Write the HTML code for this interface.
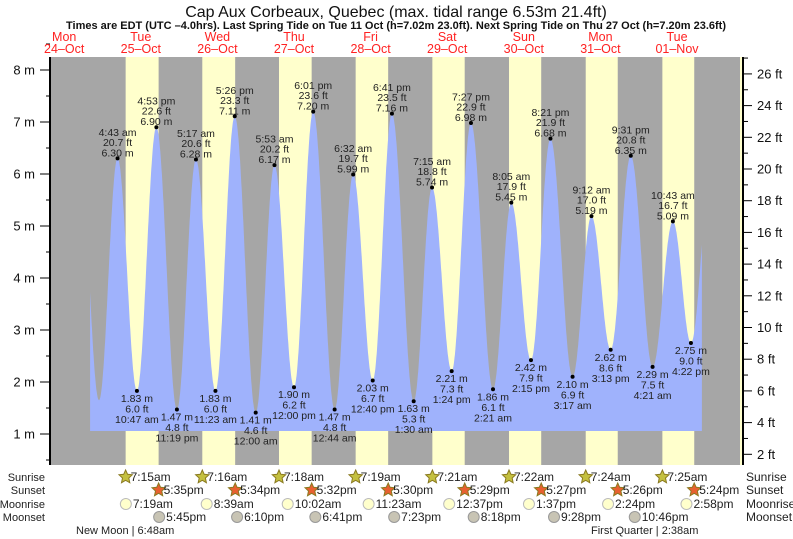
<!DOCTYPE html>
<html><head><meta charset="utf-8"><style>
body{margin:0;background:#fff;}
svg{display:block;font-family:"Liberation Sans",sans-serif;}
</style></head><body>
<svg id="chart" width="793" height="539" viewBox="0 0 793 539" xmlns="http://www.w3.org/2000/svg">
<text x="396" y="17" text-anchor="middle" font-size="16" fill="#111">Cap Aux Corbeaux, Quebec (max. tidal range 6.53m 21.4ft)</text>
<text x="396" y="29" text-anchor="middle" font-size="11" font-weight="bold" fill="#111">Times are EDT (UTC –4.0hrs). Last Spring Tide on Tue 11 Oct (h=7.02m 23.0ft). Next Spring Tide on Thu 27 Oct (h=7.20m 23.6ft)</text>
<g id="layer"></g>
</svg>
<script>
// ---- data ----
const dayNames = ["Mon","Tue","Wed","Thu","Fri","Sat","Sun","Mon","Tue"];
const dayDates = ["24\u2013Oct","25\u2013Oct","26\u2013Oct","27\u2013Oct","28\u2013Oct","29\u2013Oct","30\u2013Oct","31\u2013Oct","01\u2013Nov"];
const tideDay = [-1,-1,0,0,0,0,1,1,1,2,2,2,2,3,3,3,3,4,4,4,4,5,5,5,5,6,6,6,6,7,7,7,7];
const tideTime = ["4:40 pm","10:54 pm","4:43 am","10:47 am","4:53 pm","11:19 pm","5:17 am","11:23 am","5:26 pm","12:00 am","5:53 am","12:00 pm","6:01 pm","12:44 am","6:32 am","12:40 pm","6:41 pm","1:30 am","7:15 am","1:24 pm","7:27 pm","2:21 am","8:05 am","2:15 pm","8:21 pm","3:17 am","9:12 am","3:13 pm","9:31 pm","4:21 am","10:43 am","4:22 pm","10:50 pm"];
const tideM = [6.60,1.65,6.30,1.83,6.90,1.47,6.28,1.83,7.11,1.41,6.17,1.90,7.20,1.47,5.99,2.03,7.16,1.63,5.74,2.21,6.98,1.86,5.45,2.42,6.68,2.10,5.19,2.62,6.35,2.29,5.09,2.75,6.20];
const tideShown = [0,0,1,1,1,1,1,1,1,1,1,1,1,1,1,1,1,1,1,1,1,1,1,1,1,1,1,1,1,1,1,1,0];
const curveStartH = -3.9, curveEndH = 187.8;
const sunriseT = ["7:15am","7:16am","7:18am","7:19am","7:21am","7:22am","7:24am","7:25am"];
const sunsetT = ["5:35pm","5:34pm","5:32pm","5:30pm","5:29pm","5:27pm","5:26pm","5:24pm"];
const moonriseT = ["7:19am","8:39am","10:02am","11:23am","12:37pm","1:37pm","2:24pm","2:58pm"];
const moonsetT = ["5:45pm","6:10pm","6:41pm","7:23pm","8:18pm","9:28pm","10:46pm",null];
const mTicks = [1,2,3,4,5,6,7,8];
const ftTicks = [2,4,6,8,10,12,14,16,18,20,22,24,26];

const PL=50, PR=740, PT=57, PB=465;
const X0=102.5, PXD=76.6;
function xH(h){return X0 + h/24*PXD;}
function yM(m){return 434 - (m-1)*52;}
function yFt(f){return yM(f*0.3048);}
function parseT(s){const m=s.match(/(\d+):(\d+)\s*(am|pm)/);let h=+m[1]%12;if(m[3]=="pm")h+=12;return h+ +m[2]/60;}
const NS="http://www.w3.org/2000/svg";
const layer=document.getElementById('layer');
function mk(tag,attrs,parent){const e=document.createElementNS(NS,tag);for(const k in attrs)e.setAttribute(k,attrs[k]);(parent||layer).appendChild(e);return e;}
function txt(x,y,s,size,anchor,fill){const e=mk('text',{x:x,y:y,'font-size':size,'text-anchor':anchor||'middle',fill:fill||'#222'});e.textContent=s;return e;}

let e=mk('rect',{x:PL,y:PT,width:PR-PL,height:PB-PT,fill:'#a6a6a6'});


for(let d=0;d<sunriseT.length;d++){
  const a=xH(d*24+parseT(sunriseT[d])), b=xH(d*24+parseT(sunsetT[d]));
  e=mk('rect',{x:a,y:PT,width:b-a,height:PB-PT,fill:'#ffffcc'});
  
  
}
e=mk('rect',{x:PR,y:PT,width:2,height:PB-PT,fill:'#ffffcc'});



const tH=tideTime.map((t,i)=>tideDay[i]*24+parseT(t));
function hAt(h){for(let i=0;i<tH.length-1;i++){if(h>=tH[i]&&h<=tH[i+1]){const f=(h-tH[i])/(tH[i+1]-tH[i]);return tideM[i]+(tideM[i+1]-tideM[i])*(1-Math.cos(Math.PI*f))/2;}}return tideM[0];}
const base=431;
let d=`M${xH(curveStartH).toFixed(1)},${base}`;
for(let h=curveStartH;h<=curveEndH;h+=0.1){d+=` L${xH(h).toFixed(1)},${yM(hAt(h)).toFixed(1)}`;}
d+=` L${xH(curveEndH).toFixed(1)},${yM(hAt(curveEndH)).toFixed(1)} L${xH(curveEndH).toFixed(1)},${base} Z`;
e=mk('path',{d:d,fill:'#9fb2fc'});



for(let i=0;i<tH.length;i++){
  if(!tideShown[i])continue;
  const x=xH(tH[i]), y=yM(tideM[i]);
  const high = (i>0&&tideM[i]>tideM[i-1]) || (i==0);
  e=mk('circle',{cx:x,cy:y,r:2,fill:'#000'});
  
  
  const ms=tideM[i].toFixed(2)+' m', fs=(tideM[i]*3.28084).toFixed(1)+' ft', ts=tideTime[i];
  const g=mk('g',{});
  
  
  const lines = high ? [[ts,-22.5],[fs,-12.5],[ms,-2]] : [[ms,11],[fs,21.5],[ts,32]];
  lines.forEach(l=>{const t=txt(x,y+l[1],l[0],10.5);g.appendChild(t);});
}

e=mk('line',{x1:PL,y1:PT,x2:PL,y2:PB,stroke:'#000','stroke-width':2});


e=mk('line',{x1:PR+3,y1:PT,x2:PR+3,y2:PB,stroke:'#000','stroke-width':2});


mTicks.forEach(m=>{
  mk('line',{x1:40,y1:yM(m),x2:PL,y2:yM(m),stroke:'#000'});
  mk('line',{x1:46,y1:yM(m-0.5),x2:PL,y2:yM(m-0.5),stroke:'#000'});
  e=txt(35,yM(m)+4.5,m+' m',13,'end','#111');
  
  
});
mk('line',{x1:46,y1:yM(8.5),x2:PL,y2:yM(8.5),stroke:'#000'});
ftTicks.forEach(f=>{
  mk('line',{x1:PR+3,y1:yFt(f),x2:PR+12,y2:yFt(f),stroke:'#000'});
  mk('line',{x1:PR+3,y1:yFt(f+1),x2:PR+8,y2:yFt(f+1),stroke:'#000'});
  e=txt(757,yFt(f)+4.5,f+' ft',13,'start','#111');
  
  
});
dayNames.forEach((n,i)=>{
  const x=xH((i-1)*24+12);
  e=txt(x,41,n,12.5,'middle','#ff2222');
  
  
  e=txt(x,53,dayDates[i],12.5,'middle','#ff2222');
  
  
});

const rows=[["Sunrise",481],["Sunset",494],["Moonrise",508],["Moonset",521]];
rows.forEach(r=>{
  e=txt(45,r[1],r[0],11,'end','#222');
  
  
  e=txt(746,r[1],r[0],12,'start','#222');
  
  
});
function star(cx,cy,fill){let p='';for(let k=0;k<10;k++){const r=k%2?3.3:7,a=-Math.PI/2+k*Math.PI/5;p+=(k?'L':'M')+(cx+r*Math.cos(a)).toFixed(1)+','+(cy+r*Math.sin(a)).toFixed(1);}return mk('path',{d:p+'Z',fill:fill,stroke:'#8a7a20','stroke-width':1});}
for(let i=0;i<8;i++){
  let x=xH(i*24+parseT(sunriseT[i]));
  e=star(x,rows[0][1]-4,'#c4c040');
  
  
  txt(x+5,rows[0][1],sunriseT[i],12,'start','#222');
  x=xH(i*24+parseT(sunsetT[i]));
  e=star(x,rows[1][1]-4,'#e86030');
  
  
  txt(x+5,rows[1][1],sunsetT[i],12,'start','#222');
  x=xH(i*24+parseT(moonriseT[i]));
  e=mk('circle',{cx:x,cy:rows[2][1]-4,r:5.5,fill:'#ffffcc',stroke:'#bbb'});
  
  
  txt(x+7,rows[2][1],moonriseT[i],12,'start','#222');
  if(moonsetT[i]){
    x=xH(i*24+parseT(moonsetT[i]));
    e=mk('circle',{cx:x,cy:rows[3][1]-4,r:5.5,fill:'#c8c4b4',stroke:'#999'});
    
    
    txt(x+7,rows[3][1],moonsetT[i],12,'start','#222');
  }
}
e=txt(76,534,'New Moon | 6:48am',11,'start','#222');


e=txt(591,534,'First Quarter | 2:38am',11,'start','#222');


</script>
</body></html>
